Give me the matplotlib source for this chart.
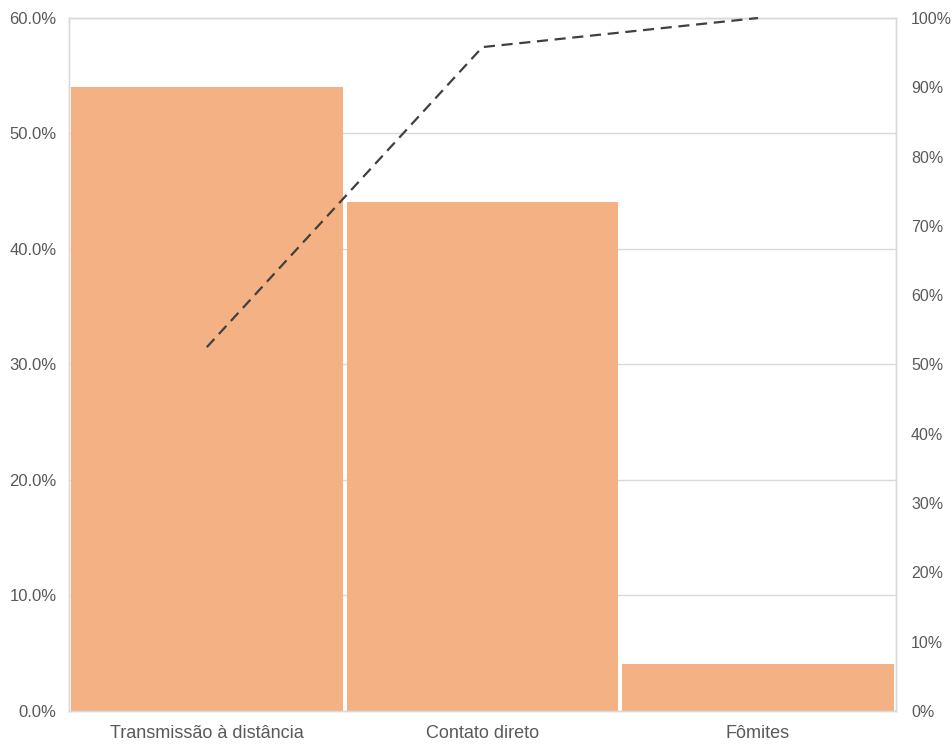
import matplotlib
matplotlib.use("Agg")
import matplotlib.pyplot as plt
from matplotlib.ticker import FuncFormatter, MultipleLocator

categories = ["Transmissão à distância", "Contato direto", "Fômites"]
share = [54.0, 44.1, 4.1]           # % per category (left axis)
cumulative = [52.5, 95.8, 100.0]    # cumulative % (right axis)

BAR_COLOR = "#F4B183"
LINE_COLOR = "#404040"
GRID_COLOR = "#D9D9D9"
TEXT_COLOR = "#595959"

plt.rcParams["font.family"] = ["Liberation Sans", "DejaVu Sans"]

fig = plt.figure(figsize=(9.52, 7.44), dpi=100)
ax = fig.add_axes([0.0725, 0.0444, 0.8685, 0.9314])
x = range(len(categories))

ax.bar(x, share, width=0.985, color=BAR_COLOR, zorder=2)
ax.set_xlim(-0.5, len(categories) - 0.5)
ax.set_ylim(0, 60)
ax.yaxis.set_major_locator(MultipleLocator(10))
ax.yaxis.set_major_formatter(FuncFormatter(lambda v, _: f"{v:.1f}%"))
ax.grid(axis="y", color=GRID_COLOR, linewidth=1, zorder=0)
ax.set_axisbelow(True)
ax.set_xticks(list(x))
ax.set_xticklabels(categories)

ax2 = ax.twinx()
ax2.plot(x, cumulative, color=LINE_COLOR, linestyle=(0, (5, 3)), linewidth=1.6,
         zorder=3, clip_on=False)
ax2.set_ylim(0, 100)
ax2.yaxis.set_major_locator(MultipleLocator(10))
ax2.yaxis.set_major_formatter(FuncFormatter(lambda v, _: f"{v:.0f}%"))

for a in (ax, ax2):
    for s in a.spines.values():
        s.set_color(GRID_COLOR)
        s.set_linewidth(1)
    a.tick_params(length=0, labelsize=12, colors=TEXT_COLOR)
ax.tick_params(axis="x", labelsize=13, pad=10)
ax.tick_params(axis="y", pad=9)
ax2.tick_params(axis="y", labelsize=11.5, pad=11)

fig.savefig("out.png", dpi=100)
